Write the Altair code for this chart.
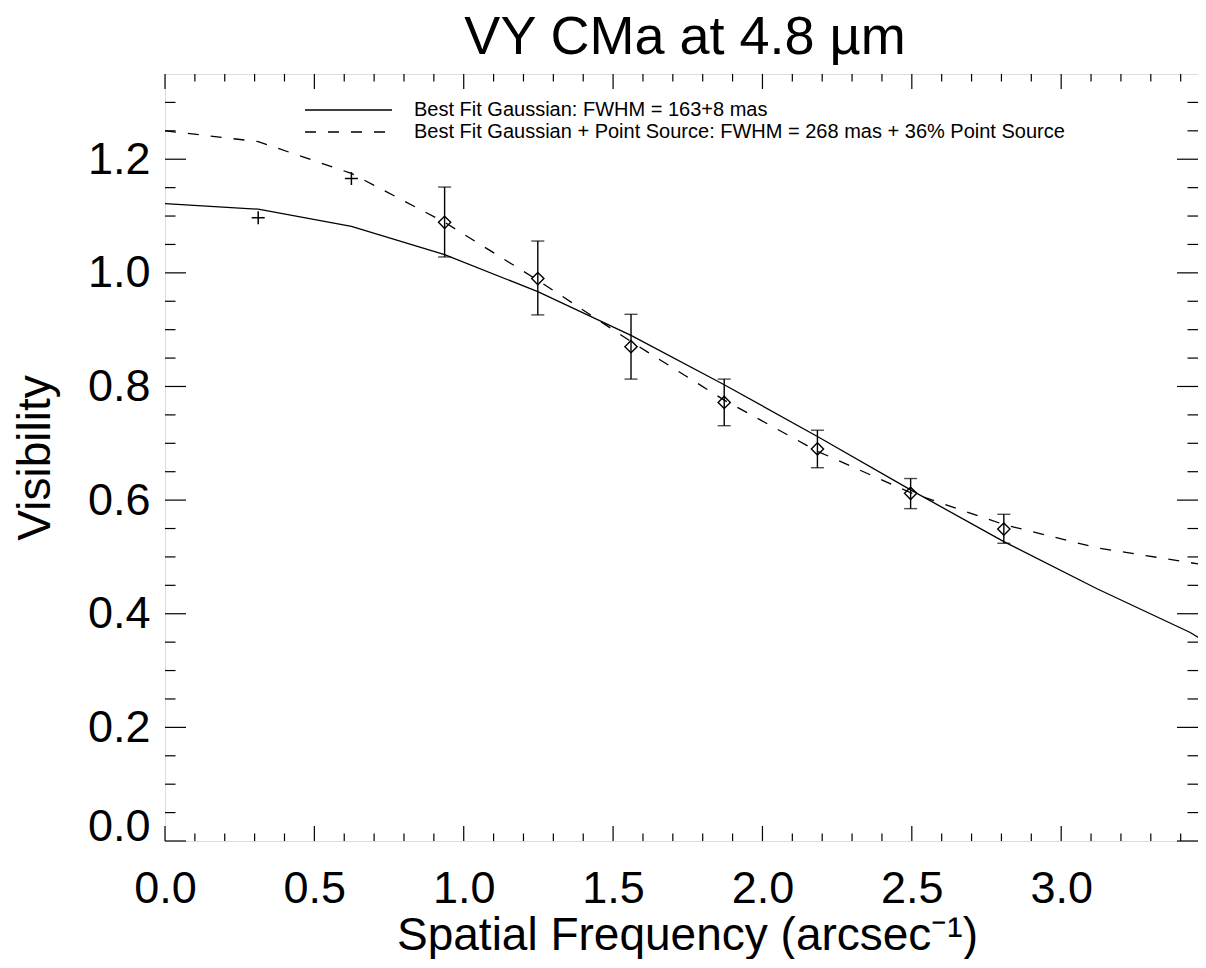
import altair as alt
import pandas as pd

# ---- data ----
model_freq = [0.0, 0.312, 0.624, 0.936, 1.248, 1.560, 1.872, 2.184, 2.496, 2.808, 3.120, 3.432, 3.478]
gauss_vis = [1.122, 1.112, 1.082, 1.032, 0.967, 0.890, 0.803, 0.712, 0.618, 0.527, 0.444, 0.367, 0.352]
gps_vis = [1.250, 1.231, 1.175, 1.089, 0.987, 0.879, 0.776, 0.686, 0.613, 0.557, 0.516, 0.490, 0.486]

obs_freq = [0.936, 1.248, 1.560, 1.872, 2.184, 2.496, 2.808]
obs_vis = [1.089, 0.990, 0.870, 0.772, 0.690, 0.612, 0.549]
obs_lo = [1.028, 0.926, 0.813, 0.731, 0.657, 0.585, 0.524]
obs_hi = [1.151, 1.056, 0.927, 0.813, 0.723, 0.638, 0.575]

plus_freq = [0.312, 0.624]
plus_vis = [1.097, 1.166]

x_major = [0.0, 0.5, 1.0, 1.5, 2.0, 2.5, 3.0]
x_minor = [0.1, 0.2, 0.3, 0.4, 0.6, 0.7, 0.8, 0.9, 1.1, 1.2, 1.3, 1.4, 1.6, 1.7, 1.8, 1.9,
           2.1, 2.2, 2.3, 2.4, 2.6, 2.7, 2.8, 2.9, 3.1, 3.2, 3.3, 3.4]
y_major = [0.0, 0.2, 0.4, 0.6, 0.8, 1.0, 1.2]
y_minor = [0.05, 0.10, 0.15, 0.25, 0.30, 0.35, 0.45, 0.50, 0.55, 0.65, 0.70, 0.75,
           0.85, 0.90, 0.95, 1.05, 1.10, 1.15, 1.25, 1.30]

title_text = "VY CMa at 4.8 \u00b5m"
legend_labels = ["Best Fit Gaussian: FWHM = 163+8 mas",
                 "Best Fit Gaussian + Point Source: FWHM = 268 mas + 36% Point Source"]

W, H = 1033, 767
XMAX, YMAX = 3.458, 1.35
FONT = "Liberation Sans"

xs = alt.Scale(domain=[0, XMAX], nice=False, zero=False)
ys = alt.Scale(domain=[0, YMAX], nice=False, zero=False)

models = pd.DataFrame({"f": model_freq, "g": gauss_vis, "gp": gps_vis})
obs = pd.DataFrame({"f": obs_freq, "v": obs_vis, "lo": obs_lo, "hi": obs_hi})
plus = pd.DataFrame({"f": plus_freq, "v": plus_vis})

xaxis = alt.Axis(values=x_major, format=".1f", ticks=False, domain=False, grid=False,
                 labelFontSize=45, labelFont=FONT, labelColor="black", labelPadding=25,
                 labelFlush=False, labelOverlap=False,
                 title="Spatial Frequency (arcsec\u207b\u00b9)", titleFontSize=46, titleFont=FONT,
                 titleFontWeight="normal", titleColor="black", titleX=522, titleY=108,
                 titleBaseline="alphabetic", titleAlign="center")
yaxis = alt.Axis(values=y_major, format=".1f", ticks=False, domain=False, grid=False,
                 labelFontSize=45, labelFont=FONT, labelColor="black", labelPadding=15,
                 labelFlush=True, labelFlushOffset=8, labelOverlap=False,
                 title="Visibility", titleFontSize=46, titleFont=FONT, titleFontWeight="normal",
                 titleColor="black", titleAngle=270, titleX=-116, titleY=H / 2,
                 titleBaseline="alphabetic", titleAlign="center")

gauss_line = alt.Chart(models).mark_line(color="black", strokeWidth=1.3, clip=True).encode(
    x=alt.X("f:Q", scale=xs, axis=xaxis), y=alt.Y("g:Q", scale=ys, axis=yaxis))
gps_line = alt.Chart(models).mark_line(color="black", strokeWidth=1.3, strokeDash=[11, 12], clip=True).encode(
    x=alt.X("f:Q", scale=xs), y=alt.Y("gp:Q", scale=ys))

err_rule = alt.Chart(obs).mark_rule(color="black", strokeWidth=1.4).encode(
    x=alt.X("f:Q", scale=xs), y=alt.Y("lo:Q", scale=ys), y2="hi:Q")
cap_lo = alt.Chart(obs).mark_tick(color="black", orient="horizontal", size=13, thickness=1.4).encode(
    x=alt.X("f:Q", scale=xs), y=alt.Y("lo:Q", scale=ys))
cap_hi = alt.Chart(obs).mark_tick(color="black", orient="horizontal", size=13, thickness=1.4).encode(
    x=alt.X("f:Q", scale=xs), y=alt.Y("hi:Q", scale=ys))
diamonds = alt.Chart(obs).mark_point(shape="diamond", size=150, filled=False, color="black",
                                     strokeWidth=1.4, opacity=1).encode(
    x=alt.X("f:Q", scale=xs), y=alt.Y("v:Q", scale=ys))
pluses = alt.Chart(plus).mark_point(shape="M-1,0H1M0,-1V1", size=170, filled=False, color="black",
                                    strokeWidth=1.5, opacity=1).encode(
    x=alt.X("f:Q", scale=xs), y=alt.Y("v:Q", scale=ys))

# inward-pointing ticks on all four sides
def vticks(vals, y0, y1):
    return alt.Chart(pd.DataFrame({"t": vals})).mark_rule(color="black", strokeWidth=1.2).encode(
        x=alt.X("t:Q", scale=xs), y=alt.value(y0), y2=alt.value(y1))

def hticks(vals, x0, x1):
    return alt.Chart(pd.DataFrame({"t": vals})).mark_rule(color="black", strokeWidth=1.2).encode(
        y=alt.Y("t:Q", scale=ys), x=alt.value(x0), x2=alt.value(x1))

ticks = [
    vticks(x_major, H, H - 15), vticks(x_minor, H, H - 7.5),
    vticks(x_major, 0, 15), vticks(x_minor, 0, 7.5),
    hticks(y_major, 0, 21), hticks(y_minor, 0, 10.5),
    hticks(y_major, W, W - 21), hticks(y_minor, W, W - 10.5),
]

# title and legend
title = alt.Chart(pd.DataFrame({"t": [title_text]})).mark_text(
    font=FONT, fontSize=54, color="black", align="center", baseline="alphabetic").encode(
    text="t:N", x=alt.value(520), y=alt.value(-20))

leg_solid = alt.Chart(pd.DataFrame({"a": [0]})).mark_rule(color="black", strokeWidth=1.3).encode(
    x=alt.value(140), x2=alt.value(227), y=alt.value(36))
leg_dash = alt.Chart(pd.DataFrame({"a": [0]})).mark_rule(color="black", strokeWidth=1.3,
                                                         strokeDash=[11, 12]).encode(
    x=alt.value(140), x2=alt.value(227), y=alt.value(58))
leg_text1 = alt.Chart(pd.DataFrame({"t": [legend_labels[0]]})).mark_text(
    font=FONT, fontSize=20, color="black", align="left", baseline="middle").encode(
    text="t:N", x=alt.value(249), y=alt.value(36))
leg_text2 = alt.Chart(pd.DataFrame({"t": [legend_labels[1]]})).mark_text(
    font=FONT, fontSize=20, color="black", align="left", baseline="middle").encode(
    text="t:N", x=alt.value(249), y=alt.value(58))

chart = alt.layer(
    gauss_line, gps_line, err_rule, cap_lo, cap_hi, diamonds, pluses, *ticks,
    title, leg_solid, leg_dash, leg_text1, leg_text2
).properties(
    width=W, height=H,
    autosize=alt.AutoSizeParams(type="none"),
    padding={"left": 157, "top": 66, "right": 0, "bottom": 118},
).configure_view(stroke="black", strokeWidth=1.3).configure(background="white")

chart.save("out.html", embed_options={"renderer": "svg", "actions": False})
